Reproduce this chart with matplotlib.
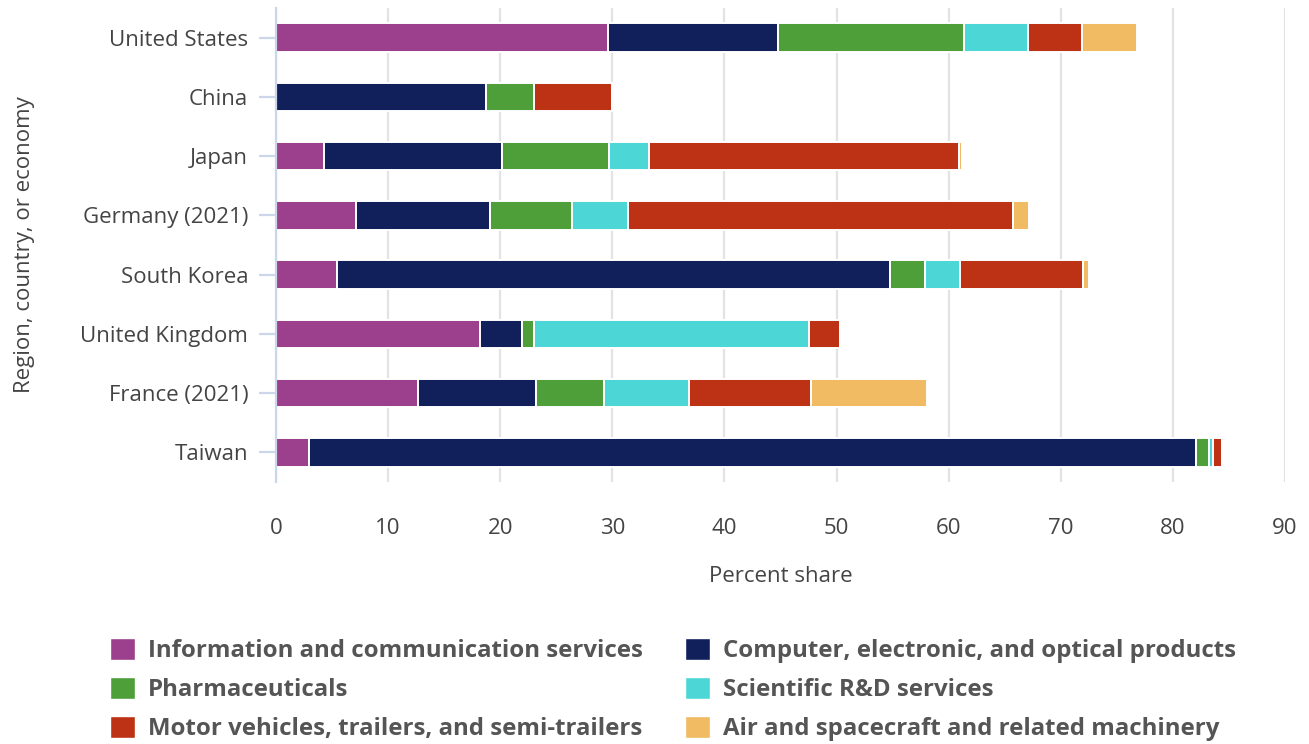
import matplotlib.pyplot as plt
from matplotlib.patches import Patch
import numpy as np

plt.rcParams['font.family'] = ['Open Sans', 'DejaVu Sans']

regions = ["United States", "China", "Japan", "Germany (2021)", "South Korea",
           "United Kingdom", "France (2021)", "Taiwan"]

sectors = ["Information and communication services",
           "Computer, electronic, and optical products",
           "Pharmaceuticals",
           "Scientific R&D services",
           "Motor vehicles, trailers, and semi-trailers",
           "Air and spacecraft and related machinery"]

info_comm = [29.6, 0.0, 4.3, 7.1, 5.4, 18.2, 12.7, 2.9]
computer = [15.2, 18.75, 15.9, 12.0, 49.4, 3.75, 10.5, 79.2]
pharma = [16.6, 4.3, 9.5, 7.3, 3.05, 1.1, 6.1, 1.1]
sci_rd = [5.7, 0.0, 3.55, 5.0, 3.2, 24.45, 7.5, 0.4]
motor = [4.8, 6.9, 27.7, 34.3, 10.9, 2.8, 10.9, 0.8]
aircraft = [4.9, 0.0, 0.25, 1.5, 0.6, 0.0, 10.4, 0.0]

colors = ["#9c3f8c", "#11205a", "#4e9e3a", "#4cd6d5", "#bd3215", "#f0bb63"]

fig = plt.figure(figsize=(13.09, 7.44), dpi=100)
ax = fig.add_axes([276 / 1309, 1 - 482 / 744, (1285 - 276) / 1309, (482 - 8) / 744])

y = np.arange(len(regions))
left = np.zeros(len(regions))
for vals, col in zip([info_comm, computer, pharma, sci_rd, motor, aircraft], colors):
    vals = np.array(vals)
    ax.barh(y, vals, left=left, height=0.48, color=col, edgecolor="white",
            linewidth=1.4, zorder=3)
    left += vals

ax.set_ylim(7.5, -0.5)
ax.set_xlim(0, 90)
ax.set_xticks(range(0, 91, 10))
ax.set_yticks(y)
ax.set_yticklabels(regions)

ax.grid(axis="x", color="#e3e3e3", linewidth=1.6, zorder=0)
for s in ["top", "right", "bottom"]:
    ax.spines[s].set_visible(False)
ax.spines["left"].set_color("#ccd6eb")
ax.spines["left"].set_linewidth(1.6)
ax.spines["left"].set_zorder(4)

ax.tick_params(axis="y", length=12, width=1.6, color="#ccd6eb", pad=8,
               labelsize=16, labelcolor="#444444")
ax.tick_params(axis="x", length=0, pad=26, labelsize=16, labelcolor="#444444")

ax.set_xlabel("Percent share", fontsize=16, color="#444444", labelpad=19)
ax.set_ylabel("Region, country, or economy", fontsize=16, color="#444444",
              labelpad=33)

# legend filled column by column, so order it for row-wise reading
handles = [Patch(facecolor=c, edgecolor="white") for c in colors]
order = [0, 2, 4, 1, 3, 5]
fig.legend([handles[i] for i in order], [sectors[i] for i in order],
           loc="upper left", bbox_to_anchor=(88 / 1309, 1 - 616 / 744), ncol=2,
           frameon=False, handlelength=1.04, handleheight=1.04,
           handletextpad=0.55, labelspacing=0.58, columnspacing=1.75,
           prop={"weight": "bold", "size": 17.3}, labelcolor="#555555")

fig.savefig("out.png", dpi=100)
